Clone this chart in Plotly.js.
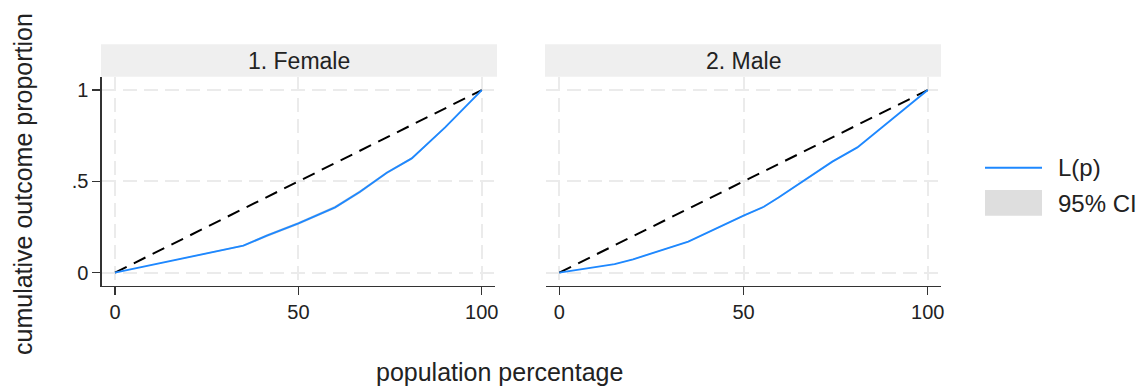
<!DOCTYPE html>
<html>
<head>
<meta charset="utf-8">
<script src="https://cdn.plot.ly/plotly-3.0.1.min.js"></script>
<style>html,body{margin:0;padding:0;background:#fff;} #chart{width:1145px;height:387px;}</style>
</head>
<body>
<div id="chart"></div>
<script>
// ---- data ----
const panelLabels = ["1. Female", "2. Male"];
const femaleP = [0, 35, 41.4, 50, 60, 66.8, 74.1, 80.9, 90, 100];
const femaleL = [0, 0.148, 0.203, 0.270, 0.358, 0.443, 0.547, 0.626, 0.796, 1];
const femaleLo = [0, 0.143, 0.195, 0.262, 0.350, 0.435, 0.540, 0.620, 0.791, 1];
const femaleHi = [0, 0.153, 0.211, 0.278, 0.366, 0.451, 0.554, 0.632, 0.801, 1];
const maleP = [0, 15, 20, 35, 50, 55.5, 59.5, 74.1, 80.9, 100];
const maleL = [0, 0.047, 0.073, 0.170, 0.312, 0.361, 0.412, 0.608, 0.686, 1];
const maleLo = [0, 0.045, 0.070, 0.166, 0.308, 0.357, 0.408, 0.604, 0.683, 1];
const maleHi = [0, 0.049, 0.076, 0.174, 0.316, 0.365, 0.416, 0.612, 0.689, 1];
const equalityP = [0, 100];
const equalityL = [0, 1];
const xTicks = [0, 50, 100];
const yTicks = [0, 0.5, 1];
const yTickText = ["0", ".5", "1"];
const legendLabels = ["L(p)", "95% CI"];

const FONT = "Liberation Sans, Arial, Helvetica, sans-serif";
const BLUE = "rgb(30,136,255)";
const CI = "rgba(200,200,200,0.7)";
const GRID = "#ebebeb";

function panel(px, lo, hi, l, xa, ya) {
  return [
    {x: px, y: lo, xaxis: xa, yaxis: ya, mode: "lines", line: {width: 0, color: CI}, hoverinfo: "skip", showlegend: false},
    {x: px, y: hi, xaxis: xa, yaxis: ya, mode: "lines", line: {width: 0, color: CI}, fill: "tonexty", fillcolor: CI, hoverinfo: "skip", showlegend: false},
    {x: equalityP, y: equalityL, xaxis: xa, yaxis: ya, mode: "lines", line: {color: "#000", width: 2, dash: "13px,8px"}, showlegend: false},
    {x: px, y: l, xaxis: xa, yaxis: ya, mode: "lines", line: {color: BLUE, width: 1.9}, showlegend: false}
  ];
}

const data = [].concat(
  panel(femaleP, femaleLo, femaleHi, femaleL, "x", "y"),
  panel(maleP, maleLo, maleHi, maleL, "x2", "y2")
);

const W = 1145, H = 387;
const px = v => v / W;
const py = v => 1 - v / H;

const xCommon = {
  range: [-3.63, 103.6], tickvals: xTicks, ticktext: xTicks.map(String),
  ticks: "outside", ticklen: 8, tickwidth: 1.3, tickcolor: "#333",
  showline: true, linecolor: "#333", linewidth: 1.3, mirror: false,
  showgrid: true, gridcolor: GRID, gridwidth: 2, griddash: "14px,7px",
  zeroline: false, tickfont: {family: FONT, size: 20, color: "#222"}, fixedrange: true
};
const yCommon = {
  range: [-0.073, 1.07], tickvals: yTicks, ticktext: yTickText,
  showgrid: true, gridcolor: GRID, gridwidth: 2, griddash: "14px,7px",
  zeroline: false, tickfont: {family: FONT, size: 20, color: "#222"}, fixedrange: true,
  domain: [py(286), py(77.3)]
};

const layout = {
  width: W, height: H,
  margin: {l: 0, r: 0, t: 0, b: 0},
  paper_bgcolor: "#fff", plot_bgcolor: "#fff",
  showlegend: false,
  xaxis: Object.assign({}, xCommon, {domain: [px(101.7), px(495)], anchor: "y"}),
  xaxis2: Object.assign({}, xCommon, {domain: [px(546), px(941)], anchor: "y2"}),
  yaxis: Object.assign({}, yCommon, {anchor: "x", ticks: "outside", ticklen: 8, tickwidth: 1.3, tickcolor: "#333",
    showline: true, linecolor: "#333", linewidth: 1.3}),
  yaxis2: Object.assign({}, yCommon, {anchor: "x2", showticklabels: false, ticks: "", showline: false}),
  shapes: [
    {type: "rect", xref: "paper", yref: "paper", x0: px(101), x1: px(497), y0: py(76.7), y1: py(44.3), fillcolor: "#efefef", line: {width: 0}, layer: "below"},
    {type: "rect", xref: "paper", yref: "paper", x0: px(545), x1: px(941), y0: py(76.7), y1: py(44.3), fillcolor: "#efefef", line: {width: 0}, layer: "below"},
    // legend keys
    {type: "line", xref: "paper", yref: "paper", x0: px(985), x1: px(1042), y0: py(167.7), y1: py(167.7), line: {color: BLUE, width: 2}},
    {type: "rect", xref: "paper", yref: "paper", x0: px(985), x1: px(1042), y0: py(215.7), y1: py(190), fillcolor: "#dedede", line: {width: 0}}
  ],
  annotations: [
    {xref: "paper", yref: "paper", x: px(299), y: py(61), text: panelLabels[0], showarrow: false, font: {family: FONT, size: 23, color: "#222"}, xanchor: "center", yanchor: "middle"},
    {xref: "paper", yref: "paper", x: px(743), y: py(61), text: panelLabels[1], showarrow: false, font: {family: FONT, size: 23, color: "#222"}, xanchor: "center", yanchor: "middle"},
    {xref: "paper", yref: "paper", x: px(23), y: py(184), text: "cumulative outcome proportion", textangle: -90, showarrow: false, font: {family: FONT, size: 25, color: "#222"}, xanchor: "center", yanchor: "middle"},
    {xref: "paper", yref: "paper", x: px(499), y: py(372), text: "population percentage", showarrow: false, font: {family: FONT, size: 25, color: "#222"}, xanchor: "center", yanchor: "middle"},
    {xref: "paper", yref: "paper", x: px(1056), y: py(167), text: legendLabels[0], showarrow: false, font: {family: FONT, size: 24, color: "#222"}, xanchor: "left", yanchor: "middle"},
    {xref: "paper", yref: "paper", x: px(1056), y: py(203), text: legendLabels[1], showarrow: false, font: {family: FONT, size: 24, color: "#222"}, xanchor: "left", yanchor: "middle"}
  ]
};

Plotly.newPlot("chart", data, layout, {displayModeBar: false, staticPlot: true});
</script>
</body>
</html>
